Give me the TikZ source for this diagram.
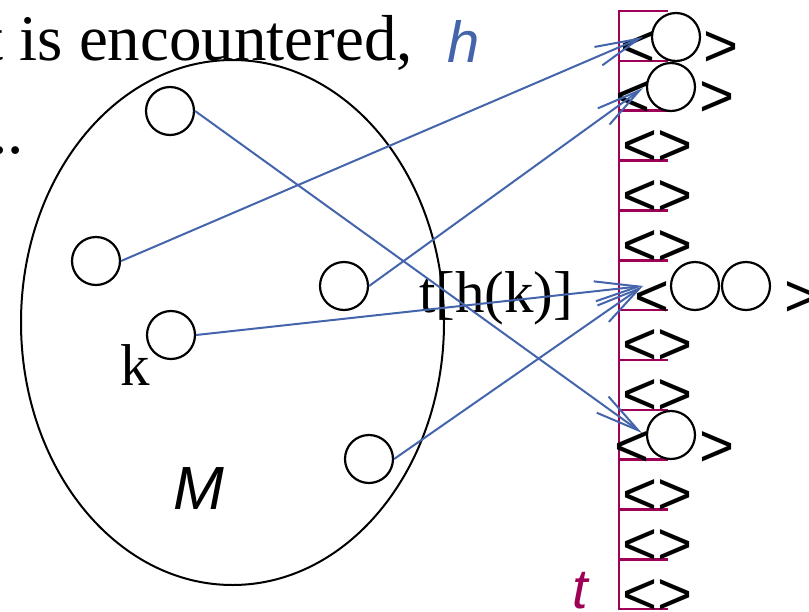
\documentclass[tikz,border=0pt]{standalone}
\usepackage{fontspec}
\setmainfont{Liberation Serif}
\newfontfamily\arialf{Liberation Sans}
\usetikzlibrary{arrows.meta,shapes.geometric}
\definecolor{hblue}{RGB}{68,100,172}
\definecolor{tmag}{RGB}{158,0,88}
\begin{document}
\begin{tikzpicture}[x=1pt,y=-1pt,
  ball/.style={circle, draw=black, line width=2.2pt, fill=white, minimum size=48pt, inner sep=0pt},
  conn/.style={draw=hblue, line width=2pt, -{Straight Barb[length=44pt,width=20pt]}},
  slotline/.style={draw=tmag, line width=2.5pt},
  brk/.style={font=\arialf\fontsize{60}{64}\selectfont, anchor=base west, inner sep=0pt},
  serifbig/.style={font=\fontsize{65}{70}\selectfont, anchor=base west, inner sep=0pt},
  serifmid/.style={font=\fontsize{59}{64}\selectfont, anchor=base west, inner sep=0pt},
  sansit/.style={font=\arialf\itshape\fontsize{58}{62}\selectfont, anchor=base west, inner sep=0pt}
]
\useasboundingbox (0,0) rectangle (809,611);
% header text
\node[serifbig] (line1) at (-15,60) {t is encountered,};
\node[serifbig] (line2) at (-25,153) {...};
\node[sansit, text=hblue] (hlab) at (447,62) {h};
% set M
\node[ellipse, draw=black, line width=2pt, minimum width=423pt, minimum height=525pt, inner sep=0pt] (setM) at (232.5,322.5) {};
\node[sansit, font=\arialf\itshape\fontsize{61}{64}\selectfont] (Mlab) at (173,509) {M};
\node[serifmid] (klab) at (120,385) {k};
\node[serifmid] (thk) at (419,312) {t[h(k)]};
% table
\draw[slotline] (668,11) -- (619,11) -- (619,609) -- (668,609);
\foreach \k in {1,...,11} \draw[slotline] (619,{11+49.85*\k}) -- (668,{11+49.85*\k});
\node[sansit, text=tmag, font=\arialf\itshape\fontsize{56}{60}\selectfont] (tlab) at (572,608) {t};
% empty slots
\foreach \k in {3,4,5,7,8,10,11,12}
  \node[brk] (e\k) at (622,{11+49.85*\k+5}) {<>};
% filled slots
\node[brk] (s1l) at (620,66) {<};
\node[brk] (s1r) at (703,66) {>};
\node[brk] (s2l) at (615,116) {<};
\node[brk] (s2r) at (699,116) {>};
\node[brk] (s6l) at (634,316) {<};
\node[brk] (s6r) at (784,316) {>};
\node[brk] (s9l) at (614,466) {<};
\node[brk] (s9r) at (699,466) {>};
% balls in table
\node[ball] (S1) at (676,37) {};
\node[ball] (S2) at (671,87) {};
\node[ball] (S6a) at (695,286) {};
\node[ball] (S6b) at (746,286) {};
\node[ball] (S9) at (671,435) {};
% balls in M
\node[ball] (A) at (170,111) {};
\node[ball] (B) at (96,261) {};
\node[ball] (C) at (344,286) {};
\node[ball] (D) at (171,335) {};
\node[ball] (E) at (369,459) {};
% arrow tips
\coordinate (T1) at (643,37);
\coordinate (T2) at (643,88);
\coordinate (T6) at (643,286);
\coordinate (T9) at (642,433);
\draw[conn] (A.east) -- (T9);
\draw[conn] (B.east) -- (T1);
\draw[conn] (C.east) -- (T2);
\draw[conn] (D.east) -- (T6);
\draw[conn] (E.east) -- (T6);
\end{tikzpicture}
\end{document}
